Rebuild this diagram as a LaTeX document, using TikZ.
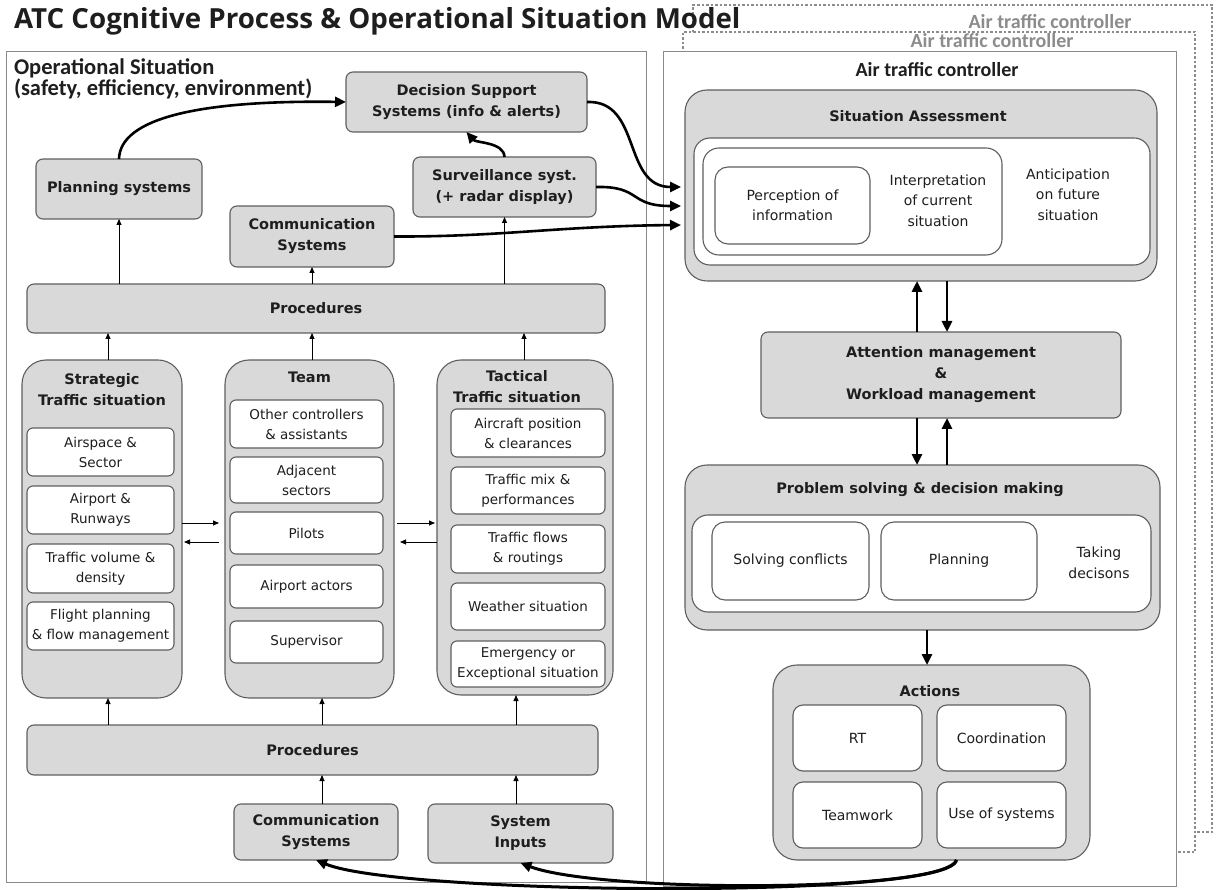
\documentclass[tikz,border=0pt]{standalone}
\usepackage{fontspec}
\setmainfont{DejaVu Sans}
\newfontfamily\calfont{Carlito}
\newfontfamily\osfont{Open Sans}
\usetikzlibrary{arrows.meta,calc}
\definecolor{boxgray}{HTML}{D9D9D9}
\definecolor{edgegray}{HTML}{5F5F5F}
\definecolor{framegray}{HTML}{8A8A8A}
\definecolor{dashgray}{HTML}{8C8C8C}
\definecolor{txt}{HTML}{1E1E1E}
\begin{document}
\begin{tikzpicture}[x=1pt,y=-1pt,
 every node/.style={inner sep=0pt, outer sep=0pt, align=center, text=txt},
 grayrect/.style={draw=edgegray, fill=boxgray, line width=1.1pt, rounded corners=7pt, font=\fontsize{14.5}{21}\selectfont\bfseries},
 itembox/.style={draw=edgegray, fill=white, line width=1.1pt, rounded corners=6pt, font=\fontsize{13.5}{20}\selectfont},
 ritem/.style={draw=edgegray, fill=white, line width=1.1pt, rounded corners=13pt, font=\fontsize{14}{20.5}\selectfont},
 container/.style={draw=framegray, fill=white, line width=1pt},
 bigbox/.style={draw=edgegray, fill=boxgray, line width=1.1pt, rounded corners=24pt},
 btxt/.style={font=\fontsize{14.5}{21}\selectfont\bfseries},
 rtxt/.style={font=\fontsize{14}{20.5}\selectfont},
 dbox/.style={draw=dashgray, fill=white, line width=1.2pt, dash pattern=on 2.5pt off 2pt},
 tarrow/.style={line width=0.9pt, -{Triangle[length=6pt,width=5pt]}},
 barrow/.style={line width=2.6pt, -{Triangle[length=11pt,width=10pt]}},
]
\useasboundingbox (0,0) rectangle (1221,890);
\fill[white] (0,0) rectangle (1221,890);

% right frames
\node[dbox, anchor=north west, minimum width=519pt, minimum height=827pt] (outerd) at (693,5) {};
\node[font=\calfont\bfseries\fontsize{20}{22}\selectfont, text=dashgray] (lblo) at (1050,22) {Air traffic controller};
\node[dbox, anchor=north west, minimum width=512pt, minimum height=820pt] (innerd) at (683,32) {};
\node[font=\calfont\bfseries\fontsize{20}{22}\selectfont, text=dashgray] (lbli) at (992,41) {Air traffic controller};
\node[container, anchor=north west, minimum width=513pt, minimum height=834pt] (atc) at (663,52) {};
\node[font=\calfont\bfseries\fontsize{20}{22}\selectfont] (lblm) at (937,70) {Air traffic controller};

% title (drawn over the dashed frames)
\node[anchor=base west, font=\osfont\bfseries\fontsize{27.7}{30}\selectfont] (title) at (14,29) {ATC Cognitive Process \& Operational Situation Model};

% left frame
\node[container, anchor=north west, minimum width=640pt, minimum height=830pt] (ops) at (6,52) {};
\node[anchor=base west, font=\calfont\bfseries\fontsize{22.5}{24}\selectfont] (opsl1) at (14,75) {Operational Situation};
\node[anchor=base west, font=\calfont\bfseries\fontsize{22.5}{24}\selectfont] (opsl2) at (14,96) {(safety, efficiency, environment)};

% left panel boxes
\node[grayrect, minimum width=241pt, minimum height=60pt] (dss) at (466.5,102) {Decision Support\\Systems (info \& alerts)};
\node[grayrect, minimum width=166pt, minimum height=60pt] (plan) at (119,189) {Planning systems};
\node[grayrect, minimum width=183pt, minimum height=60pt] (surv) at (504.5,187) {Surveillance syst.\\(+ radar display)};
\node[grayrect, minimum width=164pt, minimum height=61pt] (comA) at (312,236.5) {Communication\\Systems};
\node[grayrect, minimum width=578pt, minimum height=49pt] (procA) at (316,308.5) {Procedures};

\node[bigbox, minimum width=160pt, minimum height=338pt] (strat) at (102,529) {};
\node[btxt] (strattl) at (102,390) {Strategic\\Traffic situation};
\node[itembox, minimum width=147pt, minimum height=48pt] (s1) at (100.5,452) {Airspace \&\\Sector};
\node[itembox, minimum width=147pt, minimum height=48pt] (s2) at (100.5,510) {Airport \&\\Runways};
\node[itembox, minimum width=147pt, minimum height=49pt] (s3) at (100.5,568.5) {Traffic volume \&\\density};
\node[itembox, minimum width=147pt, minimum height=48pt] (s4) at (100.5,626) {Flight planning\\\& flow management};

\node[bigbox, minimum width=169pt, minimum height=338pt] (team) at (309.5,529) {};
\node[btxt] (teamtl) at (309.5,377) {Team};
\node[itembox, minimum width=153pt, minimum height=48pt] (t1) at (306.5,424) {Other controllers\\\& assistants};
\node[itembox, minimum width=153pt, minimum height=46pt] (t2) at (306.5,480) {Adjacent\\sectors};
\node[itembox, minimum width=153pt, minimum height=42pt] (t3) at (306.5,533) {Pilots};
\node[itembox, minimum width=153pt, minimum height=43pt] (t4) at (306.5,586.5) {Airport actors};
\node[itembox, minimum width=153pt, minimum height=42pt] (t5) at (306.5,642) {Supervisor};

\node[bigbox, minimum width=176pt, minimum height=335pt] (tact) at (525,527.5) {};
\node[btxt] (tacttl) at (517,387) {Tactical\\Traffic situation};
\node[itembox, minimum width=154pt, minimum height=48pt] (a1) at (528,433) {Aircraft position\\\& clearances};
\node[itembox, minimum width=154pt, minimum height=47pt] (a2) at (528,490.5) {Traffic mix \&\\performances};
\node[itembox, minimum width=154pt, minimum height=48pt] (a3) at (528,549) {Traffic flows\\\& routings};
\node[itembox, minimum width=154pt, minimum height=47pt] (a4) at (528,606.5) {Weather situation};
\node[itembox, minimum width=154pt, minimum height=46pt] (a5) at (528,664) {Emergency or\\Exceptional situation};

\node[grayrect, minimum width=571pt, minimum height=50pt] (procB) at (312.5,750) {Procedures};
\node[grayrect, minimum width=164pt, minimum height=56pt] (comB) at (316,832) {Communication\\Systems};
\node[grayrect, minimum width=185pt, minimum height=59pt] (sysin) at (520.5,833.5) {System\\Inputs};

% right panel
\node[bigbox, rounded corners=22pt, minimum width=472pt, minimum height=191pt] (sa) at (921,185.5) {};
\node[btxt] (satl) at (918,116) {Situation Assessment};
\node[ritem, rounded corners=16pt, minimum width=456pt, minimum height=127pt] (sain) at (922,201.5) {};
\node[ritem, rounded corners=16pt, minimum width=299pt, minimum height=107pt] (interp) at (852.5,201.5) {};
\node[ritem, minimum width=155pt, minimum height=77pt] (percep) at (792.5,205.5) {Perception of\\information};
\node[rtxt] (interpt) at (938,200.5) {Interpretation\\of current\\situation};
\node[rtxt] (antic) at (1068,194.5) {Anticipation\\on future\\situation};

\node[grayrect, minimum width=360pt, minimum height=86pt] (attn) at (941,375) {Attention management\\\&\\Workload management};

\node[bigbox, rounded corners=22pt, minimum width=475pt, minimum height=165pt] (psdm) at (922.5,547.5) {};
\node[btxt] (psdmtl) at (920,490) {Problem solving \& decision making};
\node[ritem, rounded corners=16pt, minimum width=459pt, minimum height=97pt] (psin) at (921.5,563.5) {};
\node[ritem, minimum width=157pt, minimum height=78pt] (solv) at (790.5,561) {Solving conflicts};
\node[ritem, minimum width=156pt, minimum height=78pt] (plan2) at (959,561) {Planning};
\node[rtxt] (taking) at (1099,563) {Taking\\decisons};

\node[bigbox, minimum width=317pt, minimum height=195pt] (actions) at (931.5,762.5) {};
\node[btxt] (acttl) at (930,691) {Actions};
\node[ritem, rounded corners=10pt, minimum width=129pt, minimum height=66pt] (rt) at (857.5,738) {RT};
\node[ritem, rounded corners=10pt, minimum width=129pt, minimum height=66pt] (coord) at (1001.5,738) {Coordination};
\node[ritem, rounded corners=10pt, minimum width=129pt, minimum height=66pt] (teamw) at (857.5,815) {Teamwork};
\node[ritem, rounded corners=10pt, minimum width=129pt, minimum height=66pt] (usesys) at (1001.5,815) {Use of systems};

% thin arrows, upper
\draw[tarrow] (procA.north -| plan.south) -- (plan.south);
\draw[tarrow] (procA.north -| comA.south) -- (comA.south);
\draw[tarrow] (procA.north -| surv.south) -- (surv.south);
\coordinate (sUp) at ($(strat.north)+(6,0)$);
\coordinate (tUp) at ($(team.north)+(2.5,0)$);
\coordinate (aUp) at ($(tact.north)+(-1,0)$);
\draw[tarrow] (sUp) -- (sUp |- procA.south);
\draw[tarrow] (tUp) -- (tUp |- procA.south);
\draw[tarrow] (aUp) -- (aUp |- procA.south);
% thin arrows, lower
\coordinate (sDn) at ($(strat.south)+(6,0)$);
\coordinate (tDn) at ($(team.south)+(12.5,0)$);
\coordinate (aDn) at ($(tact.south)+(-9,0)$);
\draw[tarrow] (sDn |- procB.north) -- (sDn);
\draw[tarrow] (tDn |- procB.north) -- (tDn);
\draw[tarrow] (aDn |- procB.north) -- (aDn);
\coordinate (cUp) at ($(comB.north)+(6,0)$);
\coordinate (iUp) at ($(sysin.north)+(-4.5,0)$);
\draw[tarrow] (cUp) -- (cUp |- procB.south);
\draw[tarrow] (iUp) -- (iUp |- procB.south);
% horizontal thin arrows
\draw[tarrow] ($(strat.east)+(0,-6)$) -- ($(team.west)+(-6,-6)$);
\draw[tarrow] ($(team.west)+(-6,13)$) -- ($(strat.east)+(2,13)$);
\draw[tarrow] ($(team.east)+(3,-6)$) -- ($(tact.west)+(-2,-4.5)$);
\draw[tarrow] ($(tact.west)+(0,14.5)$) -- ($(team.east)+(6,13)$);

% thick arrows, left
\draw[barrow] (plan.north) .. controls (120,118) and (200,100) .. (dss.west);
\draw[barrow] (surv.north) .. controls (504,142) and (476,143) .. (dss.south);
\draw[barrow] (dss.east) .. controls (642,100) and (622,187) .. ($(sa.west)+(-4,1.5)$);
\draw[barrow] (surv.east) .. controls (642,186) and (628,206) .. ($(sa.west)+(-4,20.5)$);
\draw[barrow] (comA.east) .. controls (500,237) and (560,226) .. ($(sa.west)+(-4,39.5)$);

% thick arrows, right
\coordinate (u1) at ($(attn.north)+(-24,0)$);
\coordinate (d1) at ($(attn.north)+(6,0)$);
\draw[barrow] (u1) -- (u1 |- sa.south);
\draw[barrow] (d1 |- sa.south) -- (d1);
\coordinate (d2) at ($(attn.south)+(-24,0)$);
\coordinate (u2) at ($(attn.south)+(6,0)$);
\draw[barrow] (d2) -- (d2 |- psdm.north);
\draw[barrow] (u2 |- psdm.north) -- (u2);
\coordinate (d3) at ($(psdm.south)+(4.5,0)$);
\draw[barrow] (d3) -- (d3 |- actions.north);

% bottom feedback curves
\coordinate (aout) at ($(actions.south)+(25,0)$);
\draw[barrow, line width=3pt] (aout) .. controls (950,900) and (400,895) .. (comB.south);
\draw[barrow, line width=3pt] (aout) .. controls (945,893) and (600,893) .. (sysin.south);
\end{tikzpicture}
\end{document}
